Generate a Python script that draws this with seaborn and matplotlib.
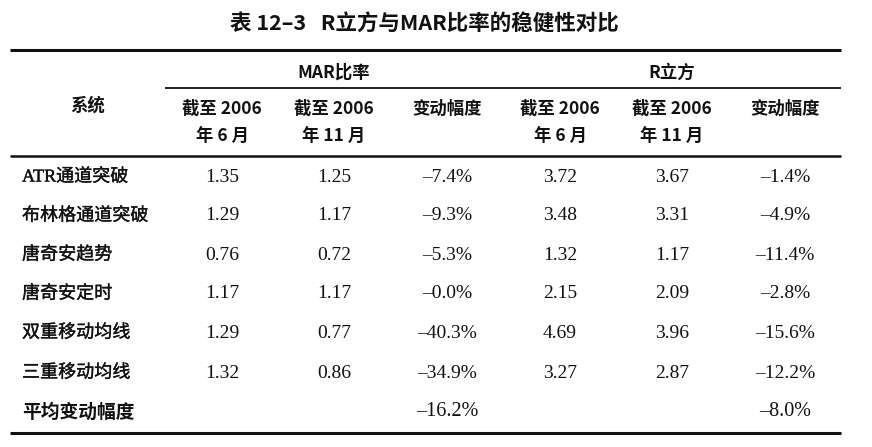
import matplotlib
matplotlib.use("Agg")
import matplotlib.pyplot as plt
import matplotlib.patheffects as pe
import seaborn as sns

title = "表 12–3   R立方与MAR比率的稳健性对比"
group_labels = ["MAR比率", "R立方"]
col_header_1 = ["截至 2006", "截至 2006", "变动幅度", "截至 2006", "截至 2006", "变动幅度"]
col_header_2 = ["年 6 月", "年 11 月", "", "年 6 月", "年 11 月", ""]
row_header = "系统"
systems = ["ATR通道突破", "布林格通道突破", "唐奇安趋势", "唐奇安定时", "双重移动均线", "三重移动均线"]
mar_jun = ["1.35", "1.29", "0.76", "1.17", "1.29", "1.32"]
mar_nov = ["1.25", "1.17", "0.72", "1.17", "0.77", "0.86"]
mar_chg = ["–7.4%", "–9.3%", "–5.3%", "–0.0%", "–40.3%", "–34.9%"]
r3_jun = ["3.72", "3.48", "1.32", "2.15", "4.69", "3.27"]
r3_nov = ["3.67", "3.31", "1.17", "2.09", "3.96", "2.87"]
r3_chg = ["–1.4%", "–4.9%", "–11.4%", "–2.8%", "–15.6%", "–12.2%"]
avg_label = "平均变动幅度"
avg_mar = "–16.2%"
avg_r3 = "–8.0%"

sns.set_theme(style="white")
plt.rcParams['font.family'] = ['Noto Sans CJK SC', 'DejaVu Sans']

fig = plt.figure(figsize=(8.72, 4.47), dpi=100)
ax = fig.add_axes([0, 0, 1, 1])
ax.set_xlim(0, 872)
ax.set_ylim(447, 0)
ax.axis("off")

sans = ['Noto Sans CJK SC', 'DejaVu Sans']
serif = ['Liberation Serif', 'Noto Sans CJK SC', 'DejaVu Sans']
ink = "#111111"
medium = [pe.withStroke(linewidth=0.25, foreground=ink)]

ax.text(424, 24, title, ha="center", va="center", fontsize=15.5,
        fontweight="bold", family=sans, color=ink)

# rules
ax.plot([10, 841], [50, 50], color=ink, lw=2.2, solid_capstyle="butt")
ax.plot([165, 841], [88, 88], color=ink, lw=1.3, solid_capstyle="butt")
ax.plot([10, 841], [156, 156], color=ink, lw=1.8, solid_capstyle="butt")
ax.plot([10, 841], [433, 433], color=ink, lw=2.2, solid_capstyle="butt")

hdr = dict(ha="center", va="center", fontsize=12.5, family=sans,
           fontweight="bold", color=ink)
col_x = [222, 334, 447, 560, 672, 785]
ax.text(334, 73, group_labels[0], **hdr)
ax.text(672, 73, group_labels[1], **hdr)
ax.text(88, 106, row_header, **hdr)
for x, h1, h2 in zip(col_x, col_header_1, col_header_2):
    ax.text(x, 109, h1, **hdr)
    if h2:
        ax.text(x, 137, h2, **hdr)

row_y = [177, 216, 255, 294, 333, 373]
cols = [mar_jun, mar_nov, mar_chg, r3_jun, r3_nov, r3_chg]
for i, (y, name) in enumerate(zip(row_y, systems)):
    ax.text(22, y, name, ha="left", va="center", fontsize=13, family=serif,
            color=ink, path_effects=medium)
    for x, col in zip(col_x, cols):
        ax.text(x, y, col[i], ha="center", va="center", fontsize=14, family=serif,
                color=ink)

avg_y = 412
ax.text(22, avg_y, avg_label, ha="left", va="center", fontsize=13.5, family=sans,
        fontweight="bold", color=ink)
ax.text(col_x[2], avg_y, avg_mar, ha="center", va="center", fontsize=14.5, family=serif,
        color=ink)
ax.text(col_x[5], avg_y, avg_r3, ha="center", va="center", fontsize=14.5, family=serif,
        color=ink)

fig.savefig("out.png", dpi=100, facecolor="white")
